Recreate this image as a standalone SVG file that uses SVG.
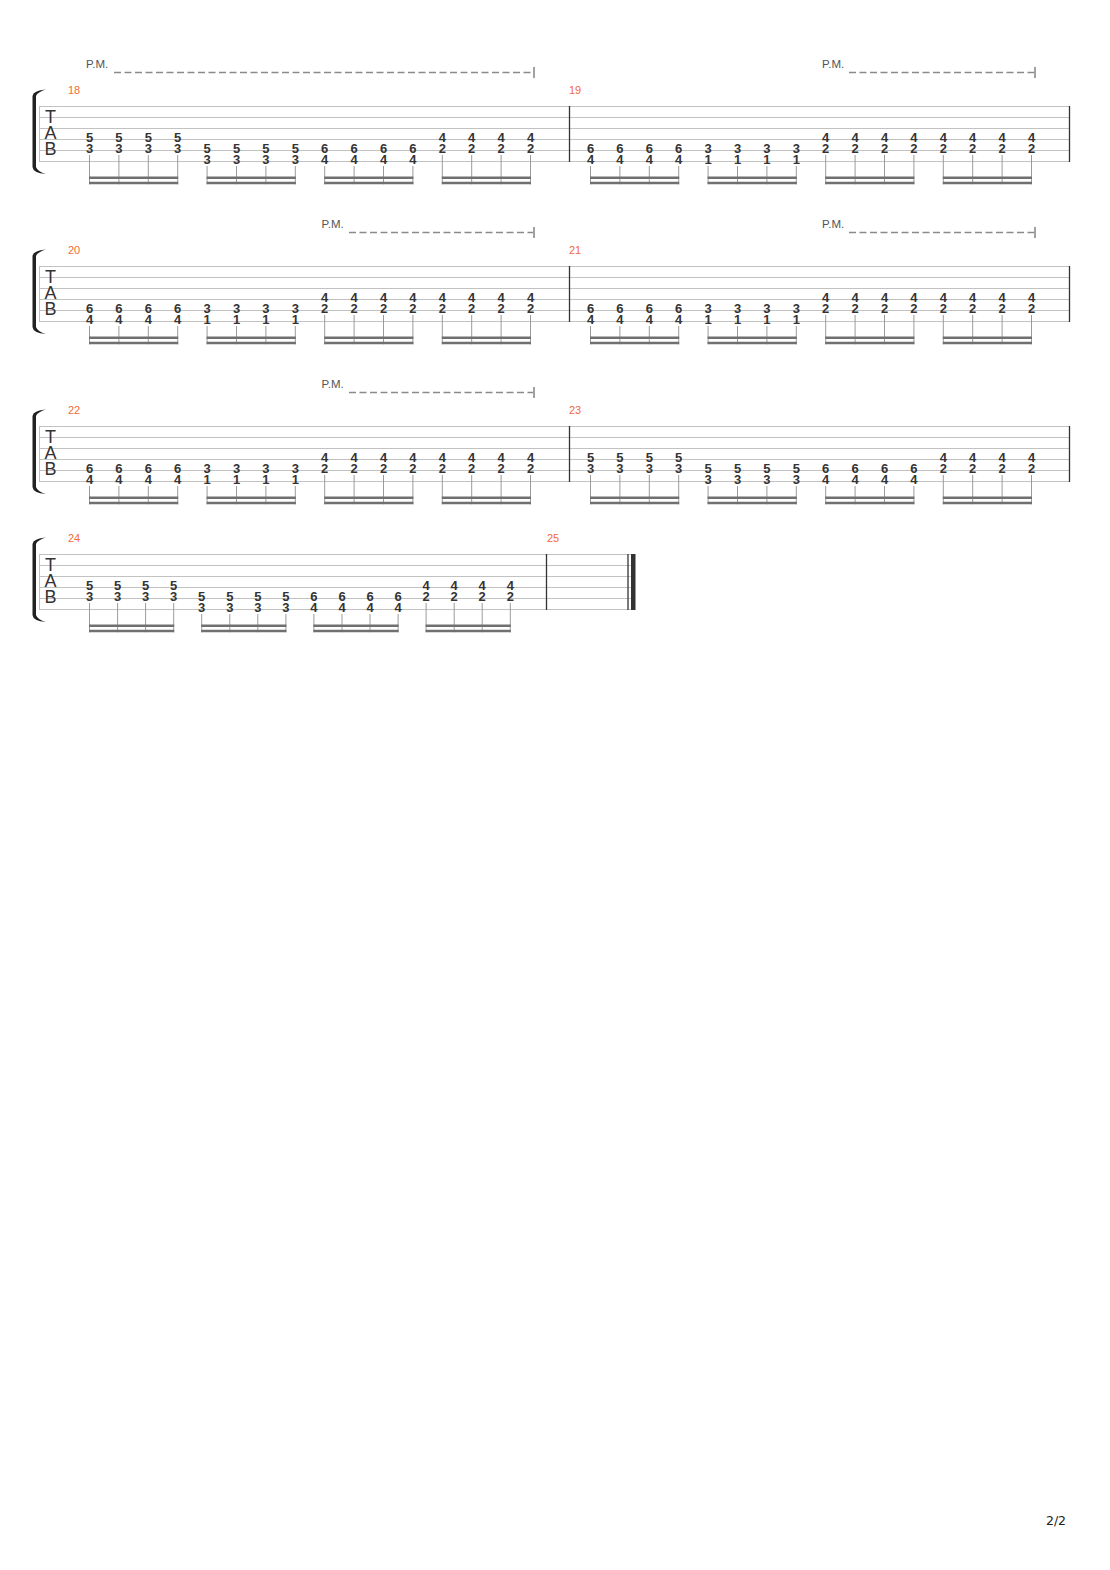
<svg xmlns="http://www.w3.org/2000/svg" width="1110" height="1570" viewBox="0 0 1110 1570">
<style>
.sl{stroke:#c2c2c2;stroke-width:1}
.bl{stroke:#333;stroke-width:1.3}
.n{font-family:"Liberation Sans",Arial,sans-serif;font-size:13px;font-weight:bold;fill:#333;text-anchor:middle}
.st{stroke:#9a9a9a;stroke-width:1;fill:none}
.bm{fill:#707070}
.mn{font-family:"Liberation Sans",Arial,sans-serif;font-size:11px;fill:#f26a3a}
.pm{font-family:"Liberation Sans",Arial,sans-serif;font-size:11.5px;fill:#555}
.pd{stroke:#8a8a8a;stroke-width:1.3;stroke-dasharray:7 3.5;fill:none}
.tk{stroke:#444;stroke-width:1}
.tab{font-family:"Liberation Sans",Arial,sans-serif;font-size:18px;fill:#333;text-anchor:middle}
.br{fill:#222}
.pg{font-family:"DejaVu Sans",Verdana,sans-serif;font-size:12.5px;fill:#222;text-anchor:middle}
</style>
<defs>
<g id="staffL">
<path class="sl" d="M39,106.5H1070M39,117.5H1070M39,128.5H1070M39,139.5H1070M39,150.5H1070M39,161.5H1070M39.5,106V162"/>
<path class="br" d="M32.5,96 Q33,90.5 46,89.5 Q37.5,92 36,96 L36,167 Q37.5,171.5 46,174 Q33,173 32.5,167 Z"/>
<text class="tab" x="50.5" y="123">T</text>
<text class="tab" x="50.5" y="139">A</text>
<text class="tab" x="50.5" y="155">B</text>
</g>
</defs>
<rect width="1110" height="1570" fill="#fff"/>

<!-- System 1 -->
<g id="system1">
<use href="#staffL"/>
<line class="bl" x1="569.5" y1="106" x2="569.5" y2="162"/>
<line class="bl" x1="1069.5" y1="106" x2="1069.5" y2="162"/>
<g id="pm1a"><text class="pm" x="86" y="68">P.M.</text><line class="pd" x1="114" y1="72.5" x2="533" y2="72.5"/><line class="tk" x1="534" y1="67" x2="534" y2="78"/></g>
<g id="pm1b"><text class="pm" x="822" y="68">P.M.</text><line class="pd" x1="849" y1="72.5" x2="1034" y2="72.5"/><line class="tk" x1="1035" y1="67" x2="1035" y2="78"/></g>
<g id="m18">
<text class="mn" x="68" y="94">18</text>
<g class="n">
<text x="89.5" y="142">5</text><text x="89.5" y="153">3</text>
<text x="118.9" y="142">5</text><text x="118.9" y="153">3</text>
<text x="148.3" y="142">5</text><text x="148.3" y="153">3</text>
<text x="177.7" y="142">5</text><text x="177.7" y="153">3</text>
<text x="207.1" y="153">5</text><text x="207.1" y="164">3</text>
<text x="236.5" y="153">5</text><text x="236.5" y="164">3</text>
<text x="265.9" y="153">5</text><text x="265.9" y="164">3</text>
<text x="295.3" y="153">5</text><text x="295.3" y="164">3</text>
<text x="324.7" y="153">6</text><text x="324.7" y="164">4</text>
<text x="354.1" y="153">6</text><text x="354.1" y="164">4</text>
<text x="383.5" y="153">6</text><text x="383.5" y="164">4</text>
<text x="412.9" y="153">6</text><text x="412.9" y="164">4</text>
<text x="442.3" y="142">4</text><text x="442.3" y="153">2</text>
<text x="471.7" y="142">4</text><text x="471.7" y="153">2</text>
<text x="501.1" y="142">4</text><text x="501.1" y="153">2</text>
<text x="530.5" y="142">4</text><text x="530.5" y="153">2</text>
</g>
<path class="st" d="M89.5,155V184.3M118.9,155V184.3M148.3,155V184.3M177.7,155V184.3M207.1,166V184.3M236.5,166V184.3M265.9,166V184.3M295.3,166V184.3M324.7,166V184.3M354.1,166V184.3M383.5,166V184.3M412.9,166V184.3M442.3,155V184.3M471.7,155V184.3M501.1,155V184.3M530.5,155V184.3"/>
<path class="bm" d="M89,176.5h89.2v2.5h-89.2zM89,181.8h89.2v2.5h-89.2zM206.6,176.5h89.2v2.5h-89.2zM206.6,181.8h89.2v2.5h-89.2zM324.2,176.5h89.2v2.5h-89.2zM324.2,181.8h89.2v2.5h-89.2zM441.8,176.5h89.2v2.5h-89.2zM441.8,181.8h89.2v2.5h-89.2z"/>
</g>
<g id="m19">
<text class="mn" x="569" y="94">19</text>
<g class="n">
<text x="590.5" y="153">6</text><text x="590.5" y="164">4</text>
<text x="619.9" y="153">6</text><text x="619.9" y="164">4</text>
<text x="649.3" y="153">6</text><text x="649.3" y="164">4</text>
<text x="678.7" y="153">6</text><text x="678.7" y="164">4</text>
<text x="708.1" y="153">3</text><text x="708.1" y="164">1</text>
<text x="737.5" y="153">3</text><text x="737.5" y="164">1</text>
<text x="766.9" y="153">3</text><text x="766.9" y="164">1</text>
<text x="796.3" y="153">3</text><text x="796.3" y="164">1</text>
<text x="825.7" y="142">4</text><text x="825.7" y="153">2</text>
<text x="855.1" y="142">4</text><text x="855.1" y="153">2</text>
<text x="884.5" y="142">4</text><text x="884.5" y="153">2</text>
<text x="913.9" y="142">4</text><text x="913.9" y="153">2</text>
<text x="943.3" y="142">4</text><text x="943.3" y="153">2</text>
<text x="972.7" y="142">4</text><text x="972.7" y="153">2</text>
<text x="1002.1" y="142">4</text><text x="1002.1" y="153">2</text>
<text x="1031.5" y="142">4</text><text x="1031.5" y="153">2</text>
</g>
<path class="st" d="M590.5,166V184.3M619.9,166V184.3M649.3,166V184.3M678.7,166V184.3M708.1,166V184.3M737.5,166V184.3M766.9,166V184.3M796.3,166V184.3M825.7,155V184.3M855.1,155V184.3M884.5,155V184.3M913.9,155V184.3M943.3,155V184.3M972.7,155V184.3M1002.1,155V184.3M1031.5,155V184.3"/>
<path class="bm" d="M590,176.5h89.2v2.5h-89.2zM590,181.8h89.2v2.5h-89.2zM707.6,176.5h89.2v2.5h-89.2zM707.6,181.8h89.2v2.5h-89.2zM825.2,176.5h89.2v2.5h-89.2zM825.2,181.8h89.2v2.5h-89.2zM942.8,176.5h89.2v2.5h-89.2zM942.8,181.8h89.2v2.5h-89.2z"/>
</g>
</g>

<!-- System 2 -->
<g id="system2" transform="translate(0,160)">
<use href="#staffL"/>
<line class="bl" x1="569.5" y1="106" x2="569.5" y2="162"/>
<line class="bl" x1="1069.5" y1="106" x2="1069.5" y2="162"/>
<g id="pm2a"><text class="pm" x="321.5" y="68">P.M.</text><line class="pd" x1="349" y1="72.5" x2="533" y2="72.5"/><line class="tk" x1="534" y1="67" x2="534" y2="78"/></g>
<g id="pm2b"><text class="pm" x="822" y="68">P.M.</text><line class="pd" x1="849" y1="72.5" x2="1034" y2="72.5"/><line class="tk" x1="1035" y1="67" x2="1035" y2="78"/></g>
<g id="m20">
<text class="mn" x="68" y="94">20</text>
<g class="n">
<text x="89.5" y="153">6</text><text x="89.5" y="164">4</text>
<text x="118.9" y="153">6</text><text x="118.9" y="164">4</text>
<text x="148.3" y="153">6</text><text x="148.3" y="164">4</text>
<text x="177.7" y="153">6</text><text x="177.7" y="164">4</text>
<text x="207.1" y="153">3</text><text x="207.1" y="164">1</text>
<text x="236.5" y="153">3</text><text x="236.5" y="164">1</text>
<text x="265.9" y="153">3</text><text x="265.9" y="164">1</text>
<text x="295.3" y="153">3</text><text x="295.3" y="164">1</text>
<text x="324.7" y="142">4</text><text x="324.7" y="153">2</text>
<text x="354.1" y="142">4</text><text x="354.1" y="153">2</text>
<text x="383.5" y="142">4</text><text x="383.5" y="153">2</text>
<text x="412.9" y="142">4</text><text x="412.9" y="153">2</text>
<text x="442.3" y="142">4</text><text x="442.3" y="153">2</text>
<text x="471.7" y="142">4</text><text x="471.7" y="153">2</text>
<text x="501.1" y="142">4</text><text x="501.1" y="153">2</text>
<text x="530.5" y="142">4</text><text x="530.5" y="153">2</text>
</g>
<path class="st" d="M89.5,166V184.3M118.9,166V184.3M148.3,166V184.3M177.7,166V184.3M207.1,166V184.3M236.5,166V184.3M265.9,166V184.3M295.3,166V184.3M324.7,155V184.3M354.1,155V184.3M383.5,155V184.3M412.9,155V184.3M442.3,155V184.3M471.7,155V184.3M501.1,155V184.3M530.5,155V184.3"/>
<path class="bm" d="M89,176.5h89.2v2.5h-89.2zM89,181.8h89.2v2.5h-89.2zM206.6,176.5h89.2v2.5h-89.2zM206.6,181.8h89.2v2.5h-89.2zM324.2,176.5h89.2v2.5h-89.2zM324.2,181.8h89.2v2.5h-89.2zM441.8,176.5h89.2v2.5h-89.2zM441.8,181.8h89.2v2.5h-89.2z"/>
</g>
<g id="m21">
<text class="mn" x="569" y="94">21</text>
<g class="n">
<text x="590.5" y="153">6</text><text x="590.5" y="164">4</text>
<text x="619.9" y="153">6</text><text x="619.9" y="164">4</text>
<text x="649.3" y="153">6</text><text x="649.3" y="164">4</text>
<text x="678.7" y="153">6</text><text x="678.7" y="164">4</text>
<text x="708.1" y="153">3</text><text x="708.1" y="164">1</text>
<text x="737.5" y="153">3</text><text x="737.5" y="164">1</text>
<text x="766.9" y="153">3</text><text x="766.9" y="164">1</text>
<text x="796.3" y="153">3</text><text x="796.3" y="164">1</text>
<text x="825.7" y="142">4</text><text x="825.7" y="153">2</text>
<text x="855.1" y="142">4</text><text x="855.1" y="153">2</text>
<text x="884.5" y="142">4</text><text x="884.5" y="153">2</text>
<text x="913.9" y="142">4</text><text x="913.9" y="153">2</text>
<text x="943.3" y="142">4</text><text x="943.3" y="153">2</text>
<text x="972.7" y="142">4</text><text x="972.7" y="153">2</text>
<text x="1002.1" y="142">4</text><text x="1002.1" y="153">2</text>
<text x="1031.5" y="142">4</text><text x="1031.5" y="153">2</text>
</g>
<path class="st" d="M590.5,166V184.3M619.9,166V184.3M649.3,166V184.3M678.7,166V184.3M708.1,166V184.3M737.5,166V184.3M766.9,166V184.3M796.3,166V184.3M825.7,155V184.3M855.1,155V184.3M884.5,155V184.3M913.9,155V184.3M943.3,155V184.3M972.7,155V184.3M1002.1,155V184.3M1031.5,155V184.3"/>
<path class="bm" d="M590,176.5h89.2v2.5h-89.2zM590,181.8h89.2v2.5h-89.2zM707.6,176.5h89.2v2.5h-89.2zM707.6,181.8h89.2v2.5h-89.2zM825.2,176.5h89.2v2.5h-89.2zM825.2,181.8h89.2v2.5h-89.2zM942.8,176.5h89.2v2.5h-89.2zM942.8,181.8h89.2v2.5h-89.2z"/>
</g>
</g>

<!-- System 3 -->
<g id="system3" transform="translate(0,320)">
<use href="#staffL"/>
<line class="bl" x1="569.5" y1="106" x2="569.5" y2="162"/>
<line class="bl" x1="1069.5" y1="106" x2="1069.5" y2="162"/>
<g id="pm3a"><text class="pm" x="321.5" y="68">P.M.</text><line class="pd" x1="349" y1="72.5" x2="533" y2="72.5"/><line class="tk" x1="534" y1="67" x2="534" y2="78"/></g>
<g id="m22">
<text class="mn" x="68" y="94">22</text>
<g class="n">
<text x="89.5" y="153">6</text><text x="89.5" y="164">4</text>
<text x="118.9" y="153">6</text><text x="118.9" y="164">4</text>
<text x="148.3" y="153">6</text><text x="148.3" y="164">4</text>
<text x="177.7" y="153">6</text><text x="177.7" y="164">4</text>
<text x="207.1" y="153">3</text><text x="207.1" y="164">1</text>
<text x="236.5" y="153">3</text><text x="236.5" y="164">1</text>
<text x="265.9" y="153">3</text><text x="265.9" y="164">1</text>
<text x="295.3" y="153">3</text><text x="295.3" y="164">1</text>
<text x="324.7" y="142">4</text><text x="324.7" y="153">2</text>
<text x="354.1" y="142">4</text><text x="354.1" y="153">2</text>
<text x="383.5" y="142">4</text><text x="383.5" y="153">2</text>
<text x="412.9" y="142">4</text><text x="412.9" y="153">2</text>
<text x="442.3" y="142">4</text><text x="442.3" y="153">2</text>
<text x="471.7" y="142">4</text><text x="471.7" y="153">2</text>
<text x="501.1" y="142">4</text><text x="501.1" y="153">2</text>
<text x="530.5" y="142">4</text><text x="530.5" y="153">2</text>
</g>
<path class="st" d="M89.5,166V184.3M118.9,166V184.3M148.3,166V184.3M177.7,166V184.3M207.1,166V184.3M236.5,166V184.3M265.9,166V184.3M295.3,166V184.3M324.7,155V184.3M354.1,155V184.3M383.5,155V184.3M412.9,155V184.3M442.3,155V184.3M471.7,155V184.3M501.1,155V184.3M530.5,155V184.3"/>
<path class="bm" d="M89,176.5h89.2v2.5h-89.2zM89,181.8h89.2v2.5h-89.2zM206.6,176.5h89.2v2.5h-89.2zM206.6,181.8h89.2v2.5h-89.2zM324.2,176.5h89.2v2.5h-89.2zM324.2,181.8h89.2v2.5h-89.2zM441.8,176.5h89.2v2.5h-89.2zM441.8,181.8h89.2v2.5h-89.2z"/>
</g>
<g id="m23">
<text class="mn" x="569" y="94">23</text>
<g class="n">
<text x="590.5" y="142">5</text><text x="590.5" y="153">3</text>
<text x="619.9" y="142">5</text><text x="619.9" y="153">3</text>
<text x="649.3" y="142">5</text><text x="649.3" y="153">3</text>
<text x="678.7" y="142">5</text><text x="678.7" y="153">3</text>
<text x="708.1" y="153">5</text><text x="708.1" y="164">3</text>
<text x="737.5" y="153">5</text><text x="737.5" y="164">3</text>
<text x="766.9" y="153">5</text><text x="766.9" y="164">3</text>
<text x="796.3" y="153">5</text><text x="796.3" y="164">3</text>
<text x="825.7" y="153">6</text><text x="825.7" y="164">4</text>
<text x="855.1" y="153">6</text><text x="855.1" y="164">4</text>
<text x="884.5" y="153">6</text><text x="884.5" y="164">4</text>
<text x="913.9" y="153">6</text><text x="913.9" y="164">4</text>
<text x="943.3" y="142">4</text><text x="943.3" y="153">2</text>
<text x="972.7" y="142">4</text><text x="972.7" y="153">2</text>
<text x="1002.1" y="142">4</text><text x="1002.1" y="153">2</text>
<text x="1031.5" y="142">4</text><text x="1031.5" y="153">2</text>
</g>
<path class="st" d="M590.5,155V184.3M619.9,155V184.3M649.3,155V184.3M678.7,155V184.3M708.1,166V184.3M737.5,166V184.3M766.9,166V184.3M796.3,166V184.3M825.7,166V184.3M855.1,166V184.3M884.5,166V184.3M913.9,166V184.3M943.3,155V184.3M972.7,155V184.3M1002.1,155V184.3M1031.5,155V184.3"/>
<path class="bm" d="M590,176.5h89.2v2.5h-89.2zM590,181.8h89.2v2.5h-89.2zM707.6,176.5h89.2v2.5h-89.2zM707.6,181.8h89.2v2.5h-89.2zM825.2,176.5h89.2v2.5h-89.2zM825.2,181.8h89.2v2.5h-89.2zM942.8,176.5h89.2v2.5h-89.2zM942.8,181.8h89.2v2.5h-89.2z"/>
</g>
</g>

<!-- System 4 -->
<g id="system4" transform="translate(0,448)">
<path class="sl" d="M39,106.5H631M39,117.5H631M39,128.5H631M39,139.5H631M39,150.5H631M39,161.5H631M39.5,106V162"/>
<path class="br" d="M32.5,96 Q33,90.5 46,89.5 Q37.5,92 36,96 L36,167 Q37.5,171.5 46,174 Q33,173 32.5,167 Z"/>
<text class="tab" x="50.5" y="123">T</text>
<text class="tab" x="50.5" y="139">A</text>
<text class="tab" x="50.5" y="155">B</text>
<line class="bl" x1="546.5" y1="106" x2="546.5" y2="162"/>
<line class="bl" x1="628" y1="106" x2="628" y2="162"/>
<rect x="631" y="106" width="4.5" height="56" fill="#333"/>
<g id="m24">
<text class="mn" x="68" y="94">24</text>
<g class="n">
<text x="89.5" y="142">5</text><text x="89.5" y="153">3</text>
<text x="117.6" y="142">5</text><text x="117.6" y="153">3</text>
<text x="145.6" y="142">5</text><text x="145.6" y="153">3</text>
<text x="173.7" y="142">5</text><text x="173.7" y="153">3</text>
<text x="201.7" y="153">5</text><text x="201.7" y="164">3</text>
<text x="229.8" y="153">5</text><text x="229.8" y="164">3</text>
<text x="257.8" y="153">5</text><text x="257.8" y="164">3</text>
<text x="285.9" y="153">5</text><text x="285.9" y="164">3</text>
<text x="313.9" y="153">6</text><text x="313.9" y="164">4</text>
<text x="342" y="153">6</text><text x="342" y="164">4</text>
<text x="370" y="153">6</text><text x="370" y="164">4</text>
<text x="398.1" y="153">6</text><text x="398.1" y="164">4</text>
<text x="426.1" y="142">4</text><text x="426.1" y="153">2</text>
<text x="454.2" y="142">4</text><text x="454.2" y="153">2</text>
<text x="482.2" y="142">4</text><text x="482.2" y="153">2</text>
<text x="510.3" y="142">4</text><text x="510.3" y="153">2</text>
</g>
<path class="st" d="M89.5,155V184.3M117.6,155V184.3M145.6,155V184.3M173.7,155V184.3M201.7,166V184.3M229.8,166V184.3M257.8,166V184.3M285.9,166V184.3M313.9,166V184.3M342,166V184.3M370,166V184.3M398.1,166V184.3M426.1,155V184.3M454.2,155V184.3M482.2,155V184.3M510.3,155V184.3"/>
<path class="bm" d="M89,176.5h85.2v2.5h-85.2zM89,181.8h85.2v2.5h-85.2zM201.2,176.5h85.2v2.5h-85.2zM201.2,181.8h85.2v2.5h-85.2zM313.4,176.5h85.2v2.5h-85.2zM313.4,181.8h85.2v2.5h-85.2zM425.6,176.5h85.2v2.5h-85.2zM425.6,181.8h85.2v2.5h-85.2z"/>
</g>
<g id="m25">
<text class="mn" x="547" y="94">25</text>
</g>
</g>

<text class="pg" x="1056" y="1525">2/2</text>
</svg>
